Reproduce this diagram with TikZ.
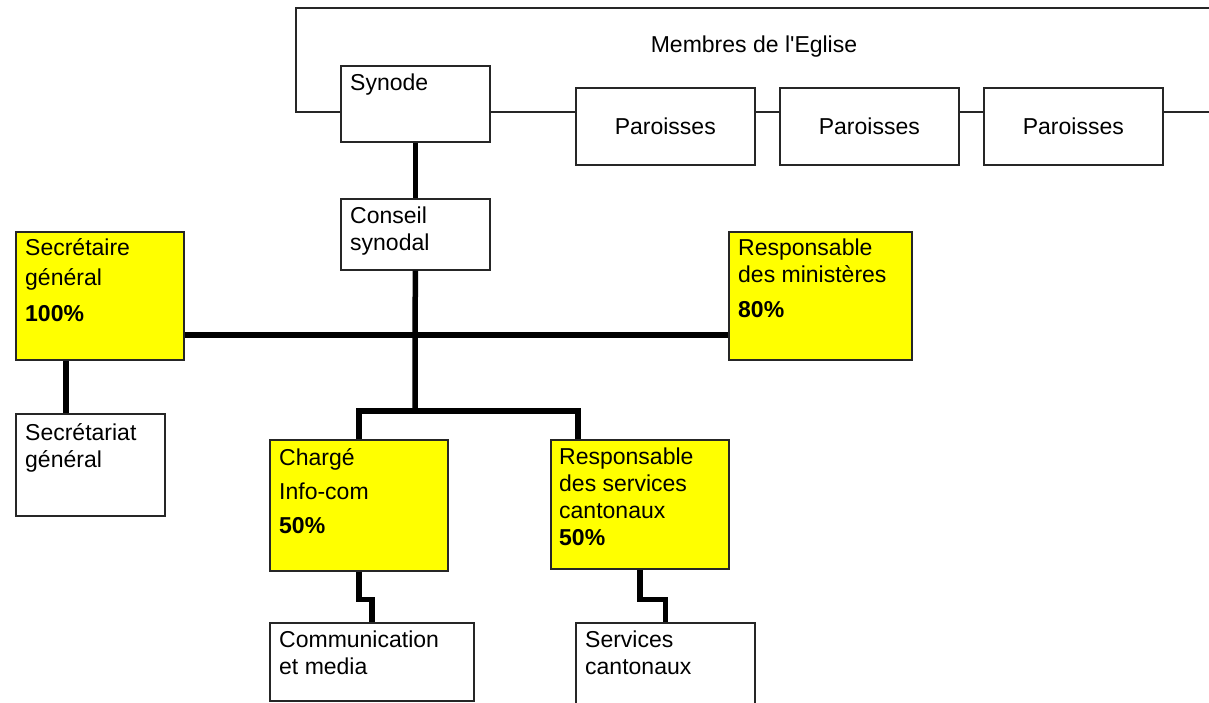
\documentclass[tikz,border=0pt]{standalone}
\usepackage{fontspec}
\setmainfont{Liberation Sans}
\usetikzlibrary{positioning}
\definecolor{hilite}{RGB}{255,255,0}
\tikzset{
  unit/.style={draw=black!85, line width=1.6pt, anchor=north west, inner sep=0pt, fill=white},
  paid/.style={unit, fill=hilite},
  parish/.style={unit, minimum width=179pt, minimum height=77pt, font=\fontsize{23}{27}\selectfont},
  txt/.style={inner sep=0pt, align=left, font=\fontsize{23}{27}\selectfont},
  link/.style={draw=black!85, line width=1.6pt},
  bar/.style={draw=black, line width=5.5pt},
}
\begin{document}
\begin{tikzpicture}[x=1pt, y=-1pt]
\useasboundingbox (0,0) rectangle (1209,703);
\coordinate (rail) at (296,112);
\coordinate (topright) at (1209,8);
\coordinate (railend) at (1209,112);
\coordinate (cross) at (415,335);
\coordinate (fork) at (415,411);

\node[unit, minimum width=149pt, minimum height=76pt] (synode) at (340,65) {};
\foreach \i/\x in {1/575,2/779,3/983}
  \node[parish] (par\i) at (\x,87) {Paroisses};
\node[txt] (membres) at (754,47) {Membres de l\textquotesingle Eglise};
\node[unit, minimum width=149pt, minimum height=71pt] (conseil) at (340,198) {};
\node[paid, minimum width=168pt, minimum height=128pt] (secgen) at (15,231) {};
\node[paid, minimum width=183pt, minimum height=128pt] (resmin) at (728,231) {};
\node[unit, minimum width=149pt, minimum height=102pt] (secret) at (15,413) {};
\node[paid, minimum width=178pt, minimum height=131pt] (charge) at (269,439) {};
\node[paid, minimum width=178pt, minimum height=129pt] (resserv) at (550,439) {};
\node[unit, minimum width=204pt, minimum height=78pt] (commu) at (269,622) {};
\node[unit, minimum width=179pt, minimum height=86pt] (servcant) at (575,622) {};

\node[txt, below right=9pt and 10pt of synode.north west] (synodetxt) {Synode};
\node[txt, below right=9pt and 10pt of conseil.north west] (conseiltxt) {Conseil\\synodal};
\node[txt, below right=7pt and 10pt of secgen.north west] (secgentxt) {Secrétaire\\[3pt]général\\[9pt]\textbf{100\%}};
\node[txt, below right=8pt and 10pt of resmin.north west] (resmintxt) {Responsable\\des ministères\\[8pt]\textbf{80\%}};
\node[txt, below right=10pt and 10pt of secret.north west] (secrettxt) {Secrétariat\\général};
\node[txt, below right=9pt and 10pt of charge.north west] (chargetxt) {Chargé\\[7pt]Info-com\\[7pt]\textbf{50\%}};
\node[txt, below right=9pt and 9pt of resserv.north west] (resservtxt) {Responsable\\des services\\cantonaux\\\textbf{50\%}};
\node[txt, below right=9pt and 10pt of commu.north west] (commutxt) {Communication\\et media};
\node[txt, below right=9pt and 10pt of servcant.north west] (servcanttxt) {Services\\cantonaux};

\draw[link] (synode.west |- rail) -- (rail) |- (topright);
\draw[link] (synode.east |- rail) -- (par1.west |- rail);
\draw[link] (par1.east |- rail) -- (par2.west |- rail);
\draw[link] (par2.east |- rail) -- (par3.west |- rail);
\draw[link] (par3.east |- rail) -- (railend);

\draw[bar] (synode.south) -- (conseil.north);
\draw[bar] (conseil.south) -- (fork);
\draw[bar] (secgen.east |- cross) -- (resmin.west |- cross);
\draw[bar] ([xshift=51pt]secgen.south west) -- ([xshift=51pt]secret.north west);
\draw[bar] (charge.north) |- (fork) -| ([xshift=28pt]resserv.north west);
\draw[bar] (charge.south) -- ++(0,28) -| (commu.north);
\draw[bar] (resserv.south) -- ++(0,30) -| (servcant.north);
\end{tikzpicture}
\end{document}
